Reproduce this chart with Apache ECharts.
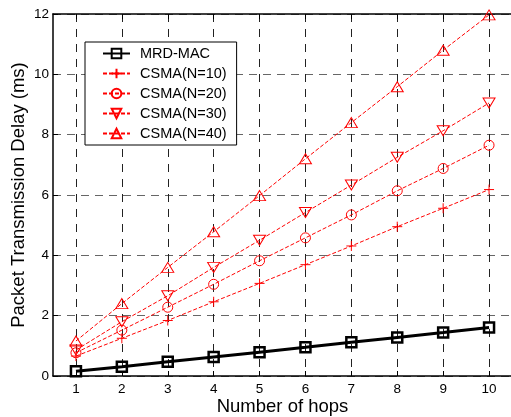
<!DOCTYPE html>
<html>
<head>
<meta charset="utf-8">
<script src="https://cdn.jsdelivr.net/npm/echarts@6/dist/echarts.min.js"></script>
<style>
  html, body { margin: 0; padding: 0; background: #fff; }
  #chart { width: 511px; height: 417px; }
</style>
</head>
<body>
<div id="chart"></div>
<script>
// values
const hops = [1, 2, 3, 4, 5, 6, 7, 8, 9, 10];
const mrdMac = [0.16, 0.31, 0.47, 0.63, 0.79, 0.95, 1.12, 1.28, 1.44, 1.61];
const csmaN10 = [0.66, 1.25, 1.84, 2.46, 3.07, 3.69, 4.31, 4.95, 5.56, 6.18];
const csmaN20 = [0.77, 1.52, 2.28, 3.04, 3.82, 4.58, 5.34, 6.14, 6.88, 7.65];
const csmaN30 = [0.86, 1.80, 2.66, 3.60, 4.50, 5.42, 6.33, 7.25, 8.13, 9.05];
const csmaN40 = [1.16, 2.40, 3.60, 4.78, 5.98, 7.20, 8.40, 9.59, 10.80, 11.97];

const font = 'Liberation Sans, Arial, sans-serif';
const red = '#ff0000';

const pairs = arr => hops.map((h, i) => [h, arr[i]]);

function csmaSeries(name, data, symbol, size) {
  return {
    name: name,
    type: 'line',
    data: pairs(data),
    symbol: symbol,
    symbolSize: size,
    showAllSymbol: true,
    lineStyle: { color: red, width: 1, type: [4, 2] },
    itemStyle: { color: 'none', borderColor: red, borderWidth: 1 },
    emphasis: { disabled: true },
    z: 3
  };
}

const chart = echarts.init(document.getElementById('chart'));

chart.setOption({
  animation: false,
  textStyle: { fontFamily: font },
  grid: { left: 53, top: 14, width: 459, height: 362, containLabel: false, outerBoundsMode: 'none' },
  legend: {
    left: 85,
    top: 42,
    orient: 'vertical',
    backgroundColor: '#fff',
    borderColor: '#000',
    borderWidth: 1,
    borderRadius: 0,
    padding: [4, 10, 4, 17],
    itemWidth: 27,
    itemHeight: 12,
    itemGap: 5,
    textStyle: { fontFamily: font, fontSize: 14.5, color: '#000', padding: [0, 0, 0, 5] },
    data: ['MRD-MAC', 'CSMA(N=10)', 'CSMA(N=20)', 'CSMA(N=30)', 'CSMA(N=40)']
  },
  xAxis: [{
    type: 'value',
    min: 0.5,
    max: 10.5,
    name: 'Number of hops',
    nameLocation: 'middle',
    nameGap: 21,
    nameMoveOverlap: false,
    nameTextStyle: { fontFamily: font, fontSize: 18.5, color: '#000' },
    axisLine: { lineStyle: { color: '#000', width: 1.5 } },
    axisTick: { inside: true, length: 5, customValues: hops, lineStyle: { color: '#000' } },
    axisLabel: { customValues: hops, fontSize: 13.5, color: '#000', margin: 6 },
    splitLine: { show: true, lineStyle: { color: '#222', width: 1, type: [8, 7] } }
  }, {
    type: 'value',
    position: 'top',
    min: 0.5,
    max: 10.5,
    axisLine: { show: true, lineStyle: { color: '#000', width: 1.5 } },
    axisTick: { inside: true, length: 5, customValues: hops, lineStyle: { color: '#000' } },
    axisLabel: { show: false },
    splitLine: { show: false }
  }],
  yAxis: {
    type: 'value',
    min: 0,
    max: 12,
    interval: 2,
    name: 'Packet Transmission Delay (ms)',
    nameLocation: 'middle',
    nameGap: 25,
    nameMoveOverlap: false,
    nameTextStyle: { fontFamily: font, fontSize: 18.5, color: '#000' },
    axisLine: { show: true, lineStyle: { color: '#000', width: 1.5 } },
    axisTick: { show: true, inside: true, length: 5, lineStyle: { color: '#000' } },
    axisLabel: { fontSize: 13.5, color: '#000', margin: 4 },
    splitLine: { show: true, lineStyle: { color: '#666', width: 1, type: [8, 6] } }
  },
  series: [
    {
      name: 'MRD-MAC',
      type: 'line',
      data: pairs(mrdMac),
      symbol: 'rect',
      symbolSize: 10,
      lineStyle: { color: '#000', width: 3 },
      itemStyle: { color: 'none', borderColor: '#000', borderWidth: 2.5 },
      emphasis: { disabled: true },
      z: 4
    },
    csmaSeries('CSMA(N=10)', csmaN10, 'path://M5,0L5,10M0,5L10,5', 10),
    csmaSeries('CSMA(N=20)', csmaN20, 'circle', 10),
    csmaSeries('CSMA(N=30)', csmaN30, 'path://M0,0L12,0L6,10Z', [12, 10]),
    csmaSeries('CSMA(N=40)', csmaN40, 'path://M6,0L12,10L0,10Z', [12, 10])
  ]
});
</script>
</body>
</html>
